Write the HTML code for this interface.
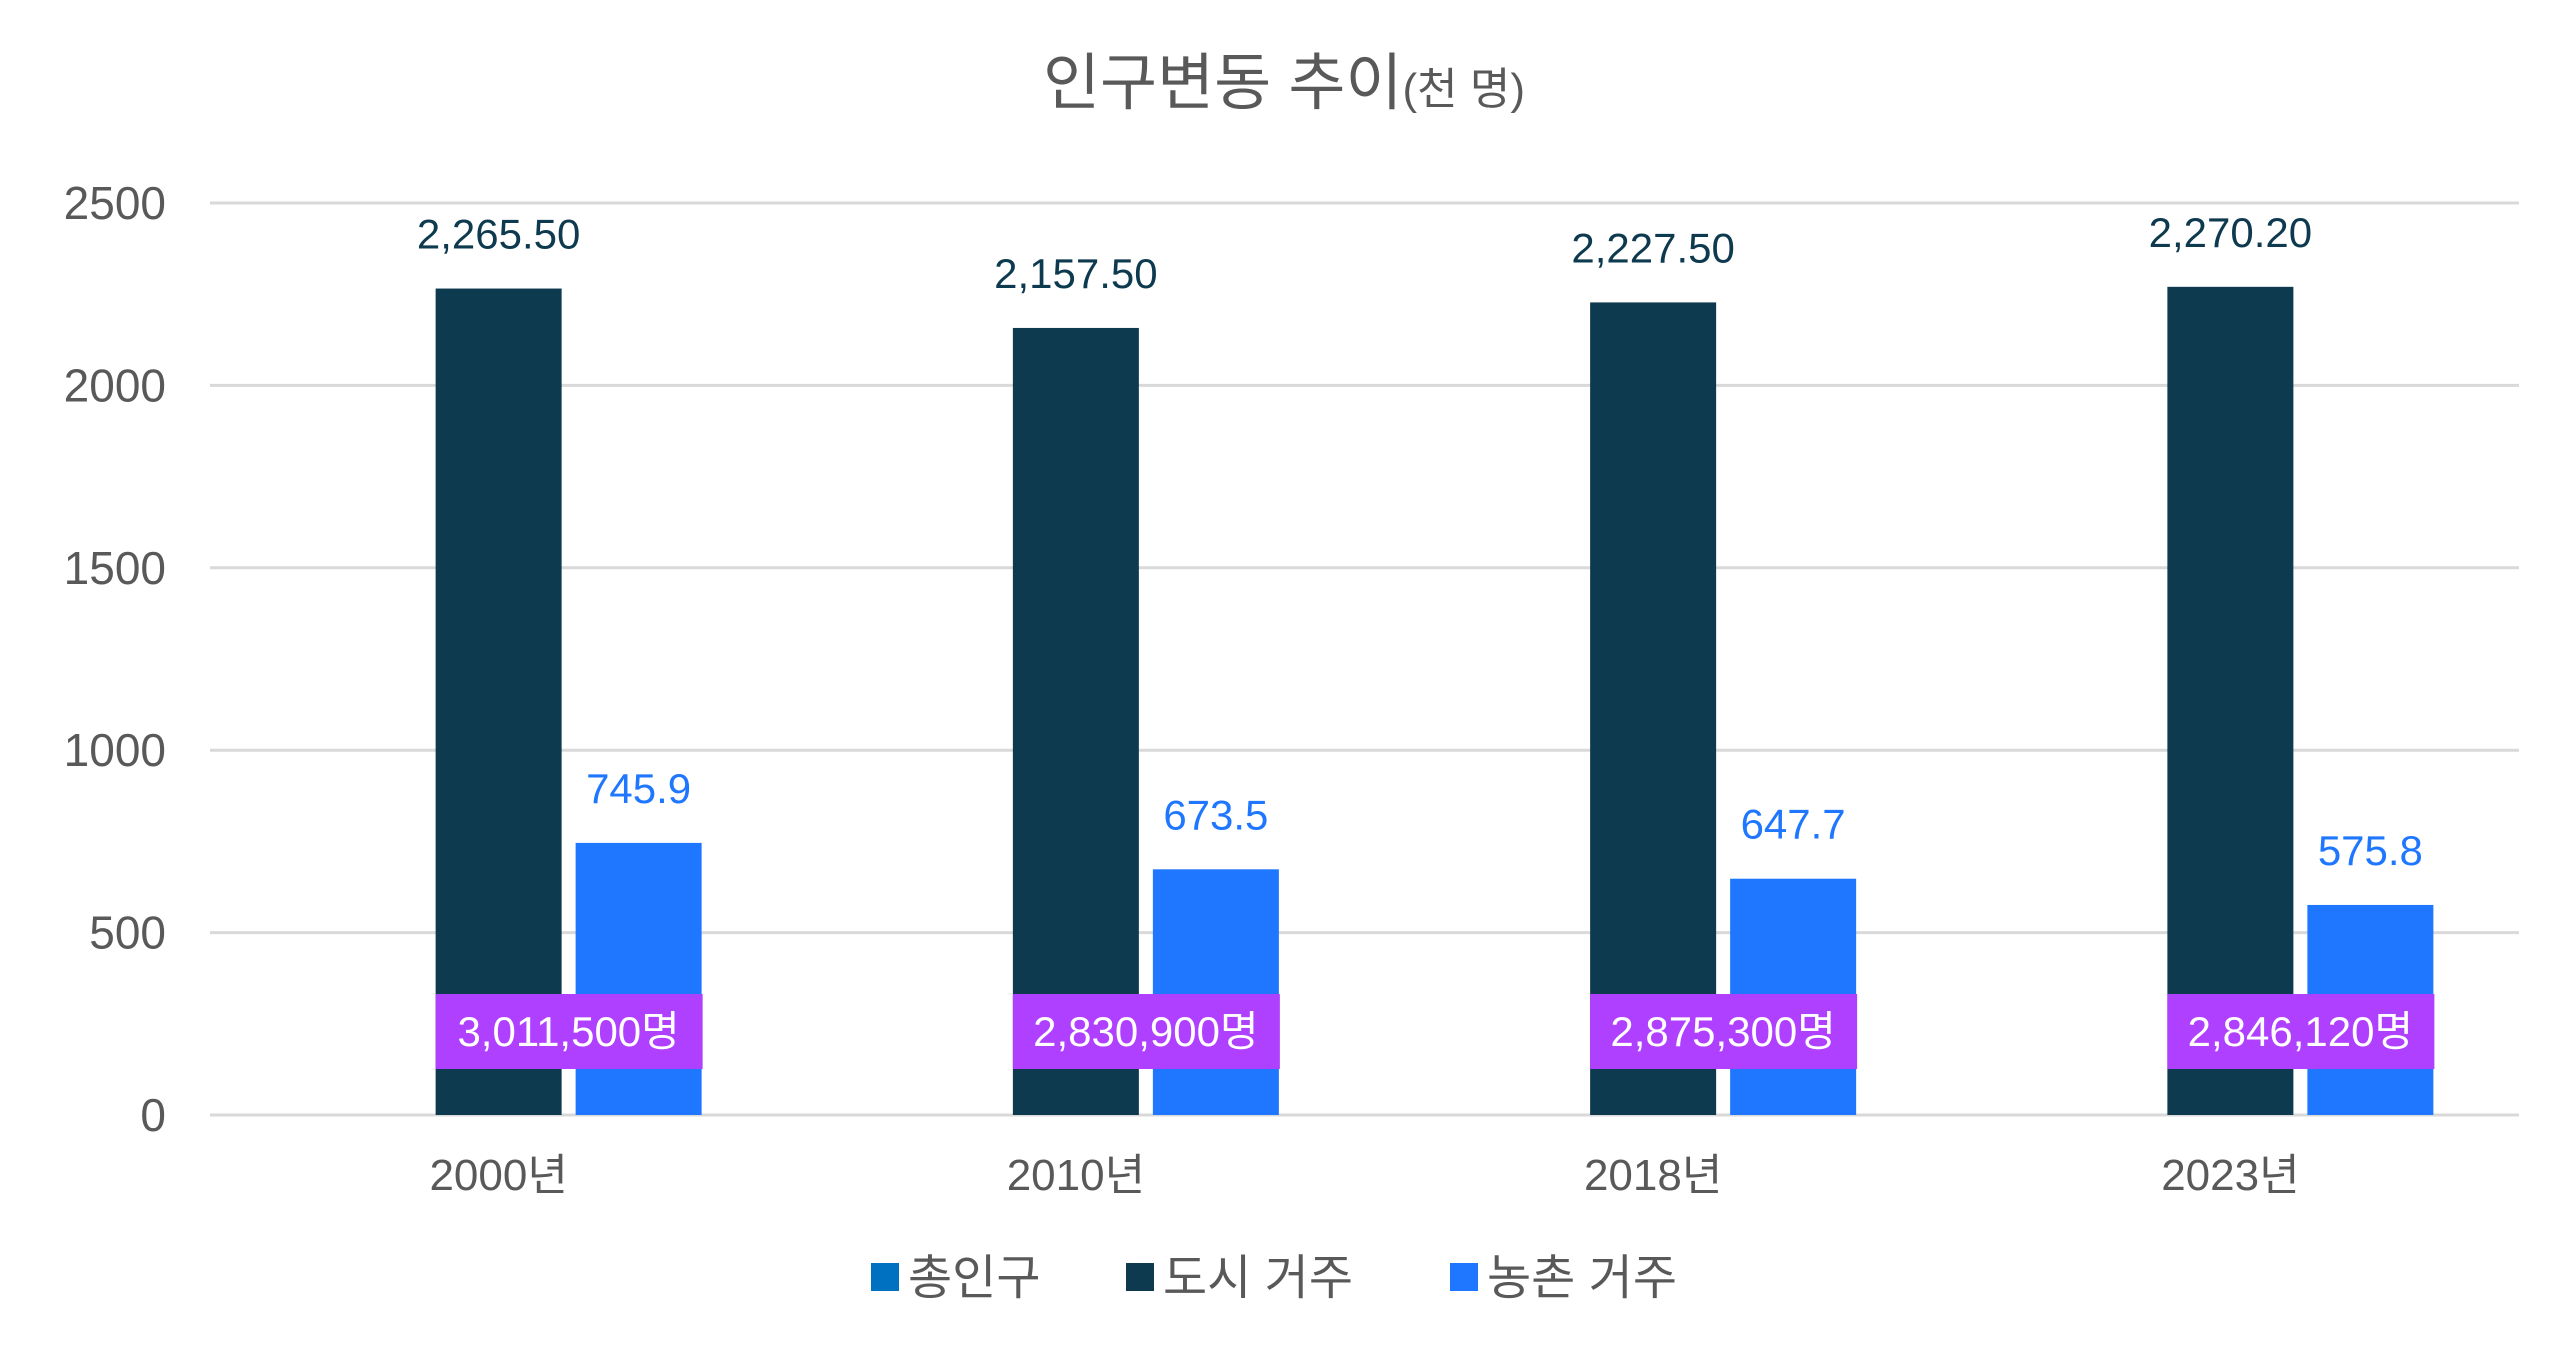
<!DOCTYPE html>
<html><head><meta charset="utf-8"><style>
html,body{margin:0;padding:0;background:#fff;}
svg{display:block;font-family:"Liberation Sans","Noto Sans CJK KR",sans-serif;}
</style></head><body>
<svg id="chart" width="2559" height="1352" viewBox="0 0 2559 1352" xmlns="http://www.w3.org/2000/svg">
<rect width="2559" height="1352" fill="#fff"/>
<text x="1284" y="104" text-anchor="middle" fill="#595959" font-size="62">인구변동 추이<tspan font-size="44">(천 명)</tspan></text>
<g id="grid"></g><g id="bars"></g><g id="labels"></g>
<g font-size="48" fill="#595959">
 <rect x="871" y="1263" width="28" height="28" fill="#0070C0"/>
 <text x="908" y="1294">총인구</text>
 <rect x="1126" y="1263" width="28" height="28" fill="#0E3A4F"/>
 <text x="1163" y="1294">도시 거주</text>
 <rect x="1450" y="1263" width="28" height="28" fill="#1F77FF"/>
 <text x="1487" y="1294">농촌 거주</text>
</g>
</svg>
<script>
const categories = ["2000년","2010년","2018년","2023년"];
const urban = [2265.5, 2157.5, 2227.5, 2270.2];
const rural = [745.9, 673.5, 647.7, 575.8];
const urbanLabels = ["2,265.50","2,157.50","2,227.50","2,270.20"];
const ruralLabels = ["745.9","673.5","647.7","575.8"];
const totalLabels = ["3,011,500명","2,830,900명","2,875,300명","2,846,120명"];
const yTicks = [0,500,1000,1500,2000,2500];

const NS="http://www.w3.org/2000/svg";
const X0=210, X1=2519, Y0=1115, Y1=203, YMAX=2500;
const band=(X1-X0)/categories.length, bw=126, gap=14;
function y(v){return Y0-(v/YMAX)*(Y0-Y1);}
function cx(i){return X0+band*(i+0.5);}
function mk(tag,attrs,parent){const e=document.createElementNS(NS,tag);for(const k in attrs)e.setAttribute(k,attrs[k]);parent.appendChild(e);return e;}
const grid=document.getElementById('grid'), bars=document.getElementById('bars'), labels=document.getElementById('labels');
yTicks.forEach(t=>{
 const l=mk('line',{x1:X0,x2:X1,y1:y(t),y2:y(t),stroke:'#d9d9d9','stroke-width':3},grid);
 
 
 const tx=mk('text',{x:166,y:y(t)+16,'text-anchor':'end','font-size':46,fill:'#595959'},grid);
 tx.textContent=t;
 
 
});
categories.forEach((c,i)=>{
 const start=cx(i)-(3*bw+2*gap)/2;
 const ux=start+bw+gap, rx=start+2*(bw+gap);
 const ub=mk('rect',{x:ux,y:y(urban[i]),width:bw,height:Y0-y(urban[i]),fill:'#0E3A4F'},bars);
 
 
 const rb=mk('rect',{x:rx,y:y(rural[i]),width:bw,height:Y0-y(rural[i]),fill:'#1F77FF'},bars);
 
 
 const ul=mk('text',{x:ux+bw/2,y:y(urban[i])-40,'text-anchor':'middle','font-size':42,fill:'#0E3A4F'},labels);
 ul.textContent=urbanLabels[i];
 
 
 const rl=mk('text',{x:rx+bw/2,y:y(rural[i])-40,'text-anchor':'middle','font-size':42,fill:'#1F77FF'},labels);
 rl.textContent=ruralLabels[i];
 
 
 const bx=mk('rect',{x:ux,y:994,width:2*bw+gap+1,height:75,fill:'#B040FF'},labels);
 
 
 const tl=mk('text',{x:ux+(2*bw+gap)/2,y:1046,'text-anchor':'middle','font-size':42,fill:'#fff'},labels);
 tl.textContent=totalLabels[i];
 
 
 const xl=mk('text',{x:cx(i),y:1190,'text-anchor':'middle','font-size':44,fill:'#595959'},labels);
 xl.textContent=c;
 
 
});
</script>
</body></html>
